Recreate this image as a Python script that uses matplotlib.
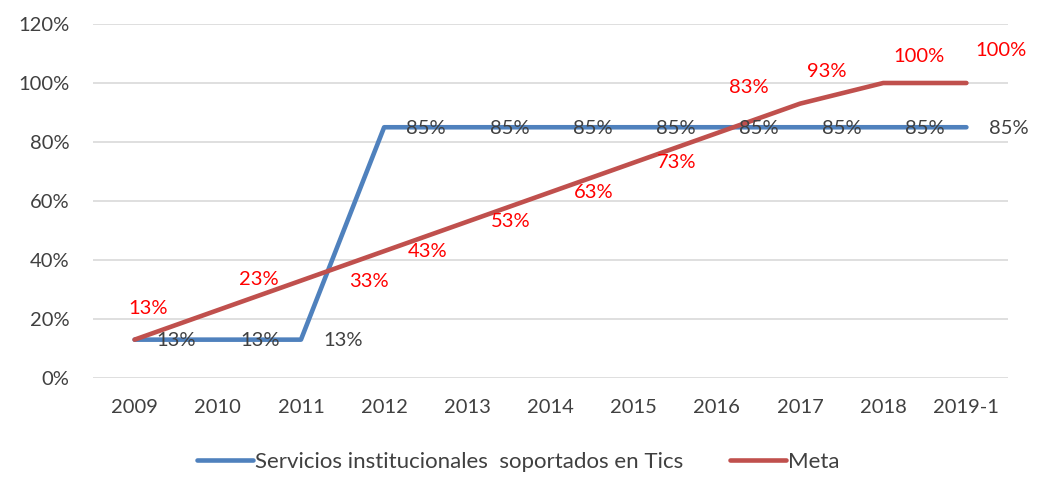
import matplotlib
matplotlib.use("Agg")
import matplotlib.pyplot as plt

categories = ["2009", "2010", "2011", "2012", "2013", "2014", "2015", "2016", "2017", "2018", "2019-1"]
servicios = [0.13, 0.13, 0.13, 0.85, 0.85, 0.85, 0.85, 0.85, 0.85, 0.85, 0.85]
meta = [0.13, 0.23, 0.33, 0.43, 0.53, 0.63, 0.73, 0.83, 0.93, 1.00, 1.00]
y_ticks = [0, 0.2, 0.4, 0.6, 0.8, 1.0, 1.2]

# label offsets (pixels) for Meta labels
meta_offsets = [(14, 31), (41, 31), (68, -1), (43, 0), (43, 0), (43, 0), (43, 0),
                (32, 46), (27, 32), (36, 26), (35, 33)]

plt.rcParams['font.family'] = ['Lato', 'DejaVu Sans']
gray = "#404040"
blue = "#4F81BD"
red = "#C0504D"
fs = 14.5

fig = plt.figure(figsize=(10.37, 4.83), dpi=100)
ax = fig.add_axes([93/1037, 1-378/483, (1008-93)/1037, (378-24)/483])
x = list(range(len(categories)))
ax.plot(x, servicios, color=blue, lw=3.3, solid_capstyle='round', solid_joinstyle='round',
        label="Servicios institucionales  soportados en Tics", zorder=3)
ax.plot(x, meta, color=red, lw=3.3, solid_capstyle='round', solid_joinstyle='round',
        label="Meta", zorder=3)

for i, v in enumerate(servicios):
    ax.annotate(f"{round(v*100)}%", (i, v), xytext=(42, -1), textcoords='offset pixels',
                ha='center', va='center', color=gray, fontsize=fs, zorder=4)
for i, v in enumerate(meta):
    dx, dy = meta_offsets[i]
    ax.annotate(f"{round(v*100)}%", (i, v), xytext=(dx, dy), textcoords='offset pixels',
                ha='center', va='center', color='#FF0000', fontsize=fs, zorder=4)

ax.set_xlim(-0.5, len(categories) - 0.5)
ax.set_ylim(0, 1.2)
ax.set_xticks(x)
ax.set_xticklabels(categories)
ax.set_yticks(y_ticks)
ax.set_yticklabels([f"{round(t*100)}%" for t in y_ticks])
ax.tick_params(axis='both', length=0, colors=gray, labelsize=fs)
ax.tick_params(axis='y', pad=17)
ax.tick_params(axis='x', pad=15)
for s in ax.spines.values():
    s.set_visible(False)
ax.grid(axis='y', color='#D9D9D9', lw=1.2)
ax.set_axisbelow(True)

leg = fig.legend(loc='center', bbox_to_anchor=(0.5, 1-462/483), ncol=2, frameon=False,
                 fontsize=16, handlelength=2.5, handletextpad=0.12, columnspacing=2.1)
for t in leg.get_texts():
    t.set_color(gray)

fig.savefig("out.png", dpi=100)
